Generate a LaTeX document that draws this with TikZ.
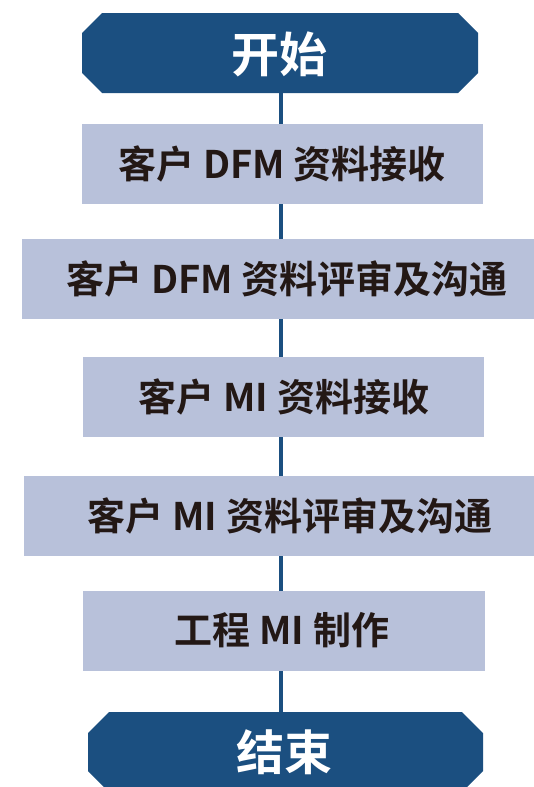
\documentclass[tikz,border=0pt]{standalone}
\usepackage{fontspec}
\newfontfamily\cjk{Noto Sans CJK SC Bold}
\definecolor{dblue}{HTML}{1B4F80}
\definecolor{lblue}{HTML}{B8C1DA}
\definecolor{txtc}{HTML}{231815}
\begin{document}
\begin{tikzpicture}[x=1pt,y=1pt,
  stepbox/.style={fill=lblue,draw=none,inner sep=0pt,minimum height=80pt},
  steptxt/.style={inner sep=0pt,text=txtc,font=\cjk\fontsize{38}{40}\selectfont},
  termtxt/.style={inner sep=0pt,text=white,font=\cjk\fontsize{48}{50}\selectfont},
  conn/.style={draw=dblue,line width=4.5pt}]
\useasboundingbox (0,0) rectangle (534,-787);
\clip (0,0) rectangle (534,-787);
% terminal shapes
\fill[dblue] (102,-13) -- (458,-13) -- (478,-33) -- (478,-73) -- (458,-93) -- (102,-93) -- (82,-73) -- (82,-33) -- cycle;
\fill[dblue] (109,-712) -- (462,-712) -- (483,-733) -- (483,-771) -- (462,-792) -- (109,-792) -- (88,-771) -- (88,-733) -- cycle;
\node[inner sep=0pt,minimum width=396pt,minimum height=80pt] (start) at (280,-53) {};
\node[inner sep=0pt,minimum width=395pt,minimum height=80pt] (end) at (285.5,-752) {};
% connector
\draw[conn] (start.south -| 281,0) -- (end.north -| 281,0);
% boxes
\node[stepbox,minimum width=401pt] (b1) at (282.5,-163.5) {};
\node[stepbox,minimum width=512pt] (b2) at (278,-279) {};
\node[stepbox,minimum width=401pt] (b3) at (283,-397) {};
\node[stepbox,minimum width=510pt] (b4) at (279,-516) {};
\node[stepbox,minimum width=402pt] (b5) at (284,-630.5) {};
% texts
\node[termtxt] (tstart) at (279,-54) {开始};
\node[termtxt] (tend) at (284,-752) {结束};
\node[steptxt] (t1) at (282,-163.5) {客户 DFM 资料接收};
\node[steptxt] (t2) at (287,-279) {客户 DFM 资料评审及沟通};
\node[steptxt] (t3) at (284,-397) {客户 MI 资料接收};
\node[steptxt] (t4) at (290,-516) {客户 MI 资料评审及沟通};
\node[steptxt] (t5) at (282,-630.5) {工程 MI 制作};
\end{tikzpicture}
\end{document}
